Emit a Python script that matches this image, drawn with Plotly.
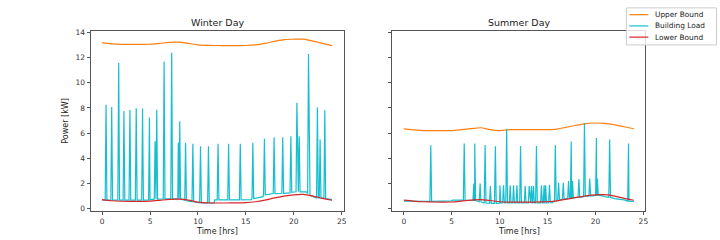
import plotly.graph_objects as go

# ---------------- data ----------------
hours = list(range(25))

winter_upper = [13.18, 13.08, 13.04, 13.04, 13.04, 13.05, 13.12, 13.2, 13.22, 13.12, 13.0, 12.96,
                12.95, 12.94, 12.94, 12.95, 13.0, 13.12, 13.28, 13.42, 13.45, 13.45, 13.3, 13.12, 12.94]
winter_lower = [0.72, 0.63, 0.59, 0.58, 0.58, 0.6, 0.66, 0.73, 0.75, 0.68, 0.52, 0.46,
                0.45, 0.45, 0.46, 0.48, 0.55, 0.68, 0.85, 1.0, 1.1, 1.13, 1.0, 0.82, 0.67]

summer_upper = [6.33, 6.26, 6.2, 6.19, 6.19, 6.2, 6.27, 6.35, 6.42, 6.28, 6.2, 6.27,
                6.28, 6.28, 6.28, 6.28, 6.32, 6.47, 6.62, 6.75, 6.8, 6.77, 6.65, 6.5, 6.34]
summer_lower = [0.67, 0.6, 0.55, 0.53, 0.52, 0.53, 0.6, 0.68, 0.72, 0.65, 0.55, 0.52,
                0.52, 0.52, 0.53, 0.55, 0.62, 0.75, 0.9, 1.02, 1.1, 1.11, 1.0, 0.82, 0.67]

# building load: baseline knots
winter_base_t = [0, 5.0, 5.4, 7.9, 8.9, 9.8, 10.1, 11.7, 11.75, 15.6, 15.65, 16.8, 16.85,
                 19.6, 20.0, 21.3, 21.7, 22.3, 23.5, 24]
winter_base_kw = [0.68, 0.7, 0.75, 0.8, 0.62, 0.5, 0.46, 0.45, 0.7, 0.72, 0.9, 0.95, 1.15,
                  1.25, 1.32, 1.34, 1.05, 0.88, 0.78, 0.72]
# building load: spikes (time, peak, load level around the spike)
winter_spike_t = [0.41, 1.0, 1.73, 2.28, 2.9, 3.56, 4.22, 4.94, 5.53, 5.7, 6.47, 7.26, 7.95, 8.1,
                  8.71, 9.47, 10.27, 11.1, 12.1, 13.2, 14.42, 15.73, 16.94, 17.95, 18.85, 19.7,
                  20.33, 20.57, 21.54, 22.47, 22.75, 23.24]
winter_spike_kw = [8.25, 8.07, 11.58, 7.76, 7.84, 7.97, 7.94, 7.24, 5.36, 7.86, 11.68, 12.37, 5.26,
                   6.94, 5.24, 5.16, 4.95, 4.95, 5.16, 5.16, 5.16, 5.24, 5.54, 5.67, 5.67, 5.75,
                   8.4, 5.75, 12.27, 8.02, 5.49, 7.81]
winter_spike_base = [0.68, 0.68, 0.68, 0.68, 0.68, 0.68, 0.68, 0.7, 0.75, 0.75, 0.78, 0.8, 0.78,
                     0.78, 0.65, 0.55, 0.46, 0.45, 0.7, 0.7, 0.7, 0.8, 1.1, 1.2, 1.22, 1.3,
                     1.34, 1.34, 1.2, 0.85, 0.85, 0.8]

summer_base_t = [0, 2.7, 5.0, 5.1, 7.2, 7.8, 8.3, 9.8, 10.0, 15.5, 15.9, 17.0, 18.6, 19.0,
                 20.5, 21.0, 22.0, 23.0, 23.5, 24]
summer_base_kw = [0.6, 0.58, 0.62, 0.67, 0.67, 0.55, 0.45, 0.42, 0.45, 0.47, 0.65, 0.8, 0.92,
                  1.0, 1.05, 0.95, 0.8, 0.7, 0.6, 0.58]
summer_spike_t = [2.81, 6.3, 7.3, 7.4, 7.96, 8.48, 9.03, 9.55, 10.03, 10.4, 10.73, 11.1, 11.45,
                  11.8, 12.18, 12.66, 13.08, 13.32, 13.53, 13.84, 14.36, 14.64, 14.8, 15.2, 15.81,
                  16.15, 16.64, 17.19, 17.47, 17.6, 18.27, 18.85, 19.4, 20.1, 20.2, 21.48, 23.45]
summer_spike_kw = [5.03, 5.18, 2.0, 5.18, 2.0, 5.05, 1.8, 4.95, 1.85, 1.85, 6.34, 1.85, 1.85,
                   1.85, 4.97, 1.8, 1.8, 1.8, 1.8, 4.97, 1.85, 1.85, 1.85, 1.9, 5.05,
                   2.06, 2.06, 2.19, 5.34, 2.19, 2.35, 6.8, 2.4, 5.6, 2.4, 5.49, 5.18]
summer_spike_base = [0.58, 0.67, 0.65, 0.65, 0.55, 0.45, 0.42, 0.42, 0.45, 0.45, 0.45, 0.45, 0.45,
                     0.45, 0.45, 0.45, 0.45, 0.45, 0.46, 0.46, 0.46, 0.46, 0.46, 0.47, 0.6,
                     0.7, 0.75, 0.8, 0.85, 0.85, 0.9, 0.95, 1.0, 1.05, 1.05, 0.9, 0.6]

SAMPLE_STEP = 0.09  # half-width of one load event (time resolution), hours


def load_series(base_t, base_kw, sp_t, sp_kw, sp_base):
    pts = list(zip(base_t, base_kw))
    for t, p, b in zip(sp_t, sp_kw, sp_base):
        pts += [(t - SAMPLE_STEP, b), (t, p), (t + SAMPLE_STEP, b)]
    pts.sort(key=lambda q: q[0])
    return [q[0] for q in pts], [q[1] for q in pts]


wt, wl = load_series(winter_base_t, winter_base_kw, winter_spike_t, winter_spike_kw, winter_spike_base)
st, sl = load_series(summer_base_t, summer_base_kw, summer_spike_t, summer_spike_kw, summer_spike_base)

ORANGE, CYAN, RED = "#ff7f0e", "#17becf", "#d62728"
LW = 1.2
FONT = "DejaVu Sans"

fig = go.Figure()
for i, (t_load, load, up, lo) in enumerate([(wt, wl, winter_upper, winter_lower),
                                            (st, sl, summer_upper, summer_lower)]):
    xa = "x" if i == 0 else "x2"
    ya = "y" if i == 0 else "y2"
    fig.add_trace(go.Scatter(x=hours, y=up, mode="lines", name="Upper Bound",
                             line=dict(color=ORANGE, width=LW, shape="spline", smoothing=0.8),
                             xaxis=xa, yaxis=ya, showlegend=False))
    fig.add_trace(go.Scatter(x=t_load, y=load, mode="lines", name="Building Load",
                             line=dict(color=CYAN, width=LW),
                             xaxis=xa, yaxis=ya, showlegend=False))
    fig.add_trace(go.Scatter(x=hours, y=lo, mode="lines", name="Lower Bound",
                             line=dict(color=RED, width=LW, shape="spline", smoothing=0.8),
                             xaxis=xa, yaxis=ya, showlegend=False))

axis_common = dict(showline=True, mirror=True, linecolor="#555", linewidth=1,
                   ticks="outside", ticklen=3, tickwidth=1, tickcolor="#555",
                   showgrid=False, zeroline=False,
                   tickfont=dict(family=FONT, size=7.5, color="#333"))

W, H = 720, 240
dom_y = [1 - 213 / H, 1 - 29 / H]
dom_x1 = [91 / W, 345 / W]
dom_x2 = [394 / W, 648 / W]

fig.update_layout(
    width=W, height=H, autosize=False,
    margin=dict(l=0, r=0, t=0, b=0),
    paper_bgcolor="white", plot_bgcolor="white",
    font=dict(family=FONT, size=8, color="#333"),
    xaxis=dict(domain=dom_x1, range=[-1.2, 25.2], tickvals=[0, 5, 10, 15, 20, 25], anchor="y", **axis_common),
    xaxis2=dict(domain=dom_x2, range=[-1.2, 25.2], tickvals=[0, 5, 10, 15, 20, 25], anchor="y2", **axis_common),
    yaxis=dict(domain=dom_y, range=[-0.16, 14.08], tickvals=list(range(0, 15, 2)), anchor="x", **axis_common),
    yaxis2=dict(domain=dom_y, range=[-0.16, 14.08], tickvals=list(range(0, 15, 2)), anchor="x2",
                showticklabels=False, **axis_common),
    showlegend=False,
)

c1 = (dom_x1[0] + dom_x1[1]) / 2
c2 = (dom_x2[0] + dom_x2[1]) / 2
ann = [
    dict(text="Winter Day", x=c1, y=1 - 20 / H, size=9.5),
    dict(text="Summer Day", x=c2, y=1 - 20 / H, size=9.5),
    dict(text="Time [hrs]", x=c1, y=1 - 234 / H, size=8),
    dict(text="Time [hrs]", x=c2, y=1 - 234 / H, size=8),
]
for a in ann:
    fig.add_annotation(text=a["text"], x=a["x"], y=a["y"], xref="paper", yref="paper",
                       xanchor="center", yanchor="middle", showarrow=False,
                       font=dict(family=FONT, size=a["size"], color="#222"))
fig.add_annotation(text="Power [kW]", x=66 / W, y=1 - 121 / H, xref="paper", yref="paper",
                   xanchor="center", yanchor="middle", showarrow=False, textangle=-90,
                   font=dict(family=FONT, size=8, color="#222"))

# legend box (matplotlib-style, drawn in paper coordinates)
fig.add_shape(type="rect", xref="paper", yref="paper", x0=629 / W, x1=719.5 / W,
              y0=1 - 43 / H, y1=1 - 5 / H, fillcolor="rgba(255,255,255,0.8)",
              line=dict(color="#cccccc", width=1), layer="above")
legend_rows = [12, 23.5, 35]
for tr, yy in zip(fig.data[:3], legend_rows):
    fig.add_shape(type="line", xref="paper", yref="paper", x0=632 / W, x1=651 / W,
                  y0=1 - yy / H, y1=1 - yy / H, line=dict(color=tr.line.color, width=LW),
                  layer="above")
    fig.add_annotation(text=tr.name, x=656 / W, y=1 - yy / H, xref="paper", yref="paper",
                       xanchor="left", yanchor="middle", showarrow=False,
                       font=dict(family=FONT, size=7.4, color="#222"))

fig.write_html("out.html", config={"displayModeBar": False},
               post_script="document.body.style.margin='0';document.body.style.overflow='hidden';")
